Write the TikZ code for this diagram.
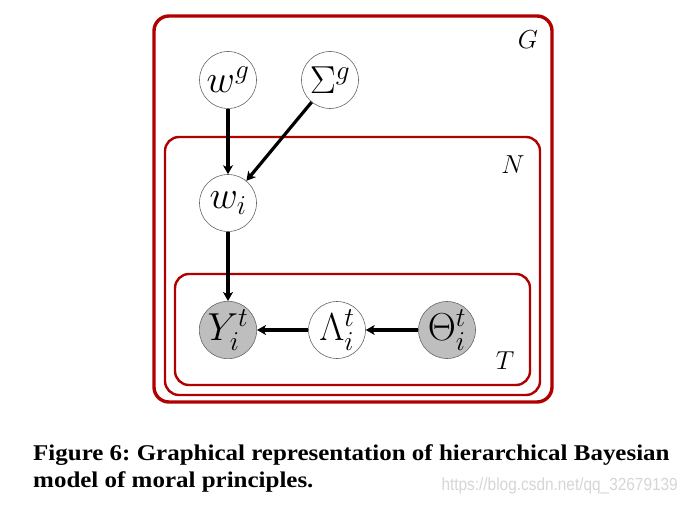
\RequirePackage{fix-cm}
\documentclass[tikz,border=0pt]{standalone}
\usepackage{fontspec}
\newfontfamily\capfont{Liberation Serif}
\newfontfamily\wmfont{Liberation Sans}
\usetikzlibrary{arrows.meta}
\definecolor{platered}{HTML}{B00000}
\definecolor{obsgray}{HTML}{BEBEBE}
\definecolor{wmgray}{HTML}{D6D6D6}
\begin{document}
\begin{tikzpicture}[x=1pt,y=-1pt,
  var/.style={circle, draw=black!60, line width=0.6pt, fill=white, minimum size=57pt, inner sep=0pt, font=\fontsize{39}{41}\selectfont},
  obs/.style={var, fill=obsgray},
  plate/.style={draw=platered, rounded corners=14pt, line width=2.4pt},
  edge/.style={-{Stealth[length=9pt,width=10pt,inset=2.5pt]}, line width=3.2pt},
  platelabel/.style={font=\fontsize{26}{28}\selectfont},
  captext/.style={anchor=base west, inner sep=0pt, xscale=1.11, font=\capfont\bfseries\frenchspacing\fontsize{22.5}{26}\selectfont},
  wmtext/.style={anchor=base east, inner sep=0pt, xscale=0.88, text=wmgray, font=\wmfont\fontsize{17.5}{20}\selectfont}]
\useasboundingbox (0,0) rectangle (690,505);
\fill[white] (0,0) rectangle (690,505);
\draw[plate, line width=3.4pt, rounded corners=15pt] (154,16) rectangle (552,402);
\draw[plate] (165,137) rectangle (540,395);
\draw[plate] (175,274) rectangle (530,385);
\node[var] (wg) at (228,80) {$w^g$};
\node[var] (sg) at (330,80) {$\Sigma^g$};
\node[var] (wi) at (228,203) {$w_i$};
\node[obs] (y) at (228,330) {$Y_i^t$};
\node[var] (lam) at (337,330) {$\Lambda_i^t$};
\node[obs] (th) at (447,330) {$\Theta_i^t$};
\node[platelabel] (lg) at (528,40) {$G$};
\node[platelabel] (ln) at (513,165) {$N$};
\node[platelabel] (lt) at (505,361) {$T$};
\draw[edge] (wg) -- (wi);
\draw[edge] (sg) -- (wi);
\draw[edge] (wi) -- (y);
\draw[edge] (lam) -- (y);
\draw[edge] (th) -- (lam);
\node[captext] (cap1) at (33,460) {Figure 6: Graphical representation of hierarchical Bayesian};
\node[captext] (cap2) at (33,487) {model of moral principles.};
\node[wmtext] (wm) at (678,490) {https://blog.csdn.net/qq\_32679139};
\end{tikzpicture}
\end{document}
